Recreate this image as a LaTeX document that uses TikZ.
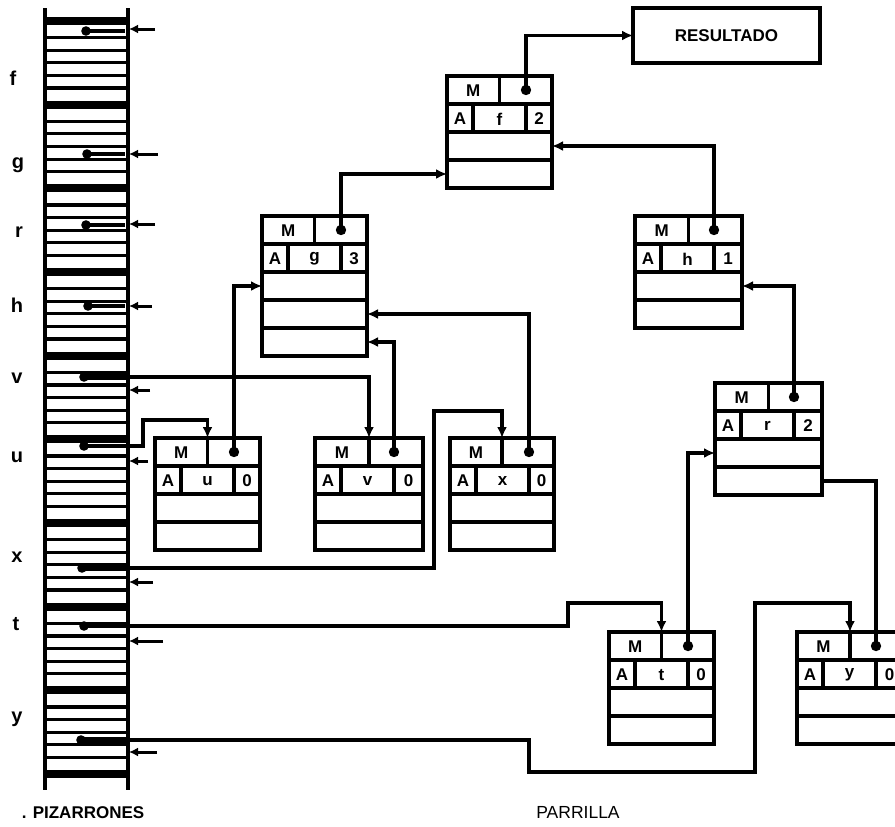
\documentclass[tikz,border=0pt]{standalone}
\usepackage{fontspec}
\setmainfont{Liberation Sans}
\usetikzlibrary{arrows.meta,calc}
\tikzset{
 recbox/.style={draw, line width=3.6pt, inner sep=0pt, outer sep=0pt, fill=white},
 cellln/.style={line width=3.2pt},
 boxtxt/.style={inner sep=0pt, font=\fontsize{17}{17}\selectfont\bfseries},
 ptr/.style={line width=3.2pt, -{Latex[length=11pt,width=10pt]}},
 ptrplain/.style={line width=3.2pt},
 inarr/.style={line width=3pt, -{Latex[length=9pt,width=9pt]}},
 varlab/.style={inner sep=0pt, anchor=base, font=\fontsize{20}{20}\selectfont\bfseries},
 restxt/.style={font=\fontsize{17}{17}\selectfont\bfseries}
}
\newcommand\recnode[7]{%
  \node[recbox, minimum width=#4pt, minimum height=#5*28pt, anchor=north west] (#1) at (#2,#3) {};
  \pgfmathtruncatemacro\nrows{#5-1}%
  \foreach \i in {1,...,\nrows}{\draw[cellln] ($(#1.north west)+(0,\i*28)$) -- ++(#4,0);}
  \draw[cellln] ($(#1.north west)+(#4/2,0)$) -- ++(0,28);
  \draw[cellln] ($(#1.north west)+(26,28)$) -- ++(0,28);
  \draw[cellln] ($(#1.north west)+(79,28)$) -- ++(0,28);
  \node[boxtxt] (#1m) at ($(#1.north west)+(#4/4,15)$) {M};
  \node[boxtxt] (#1a) at ($(#1.north west)+(13,43)$) {A};
  \node[boxtxt] (#1l) at ($(#1.north west)+(52.5,43)$) {#6};
  \node[boxtxt] (#1n) at ($(#1.north west)+({(79+#4)/2},43)$) {#7};
  \coordinate (#1-dot) at ($(#1.north west)+(79,14)$);
  \coordinate (#1-top) at ($(#1.north west)+(#4/2,0)$);
  \foreach \k in {3,4,5}{%
    \coordinate (#1-L\k) at ($(#1.north west)+(0,\k*28-14)$);
    \coordinate (#1-R\k) at ($(#1.north west)+(#4,\k*28-14)$);}
  \fill (#1-dot) circle (5.2pt);
}
\begin{document}
\begin{tikzpicture}[x=1pt,y=-1pt]
\useasboundingbox (0,0) rectangle (895,827);
\fill[white] (0,0) rectangle (895,827);
\clip (0,0) rectangle (895,827);

% ---- PIZARRONES column
\foreach \k in {0,...,9}{\pgfmathsetmacro\bt{17+\k*83.67}\fill (45,\bt) rectangle (128,\bt+8);}
\foreach \k in {0,...,8}{\foreach \j in {1,...,5}{%
  \pgfmathsetmacro\cy{25+\k*83.67+\j*75.67/6}\draw[line width=3.2pt] (45,\cy) -- (128,\cy);}}
\draw[line width=3.8pt] (45,8) -- (45,790) (128,8) -- (128,790);

% variable labels
\node[varlab] (lf) at (13,85) {f};
\node[varlab] (lg) at (18,168) {g};
\node[varlab] (lr) at (19,237) {r};
\node[varlab] (lh) at (17,312) {h};
\node[varlab] (lv) at (17,383) {v};
\node[varlab] (lu) at (17,462) {u};
\node[varlab] (lx) at (17,562) {x};
\node[varlab] (lt) at (16,630) {t};
\node[varlab] (ly) at (17,722) {y};

% ---- records
\recnode{bf}{447}{76}{105}{4}{f}{2}
\recnode{bg}{262}{216}{105}{5}{g}{3}
\recnode{bh}{635}{216}{107}{4}{h}{1}
\recnode{br}{715}{383}{107}{4}{r}{2}
\recnode{bu}{155}{438}{105}{4}{u}{0}
\recnode{bv}{315}{438}{108}{4}{v}{0}
\recnode{bx}{450}{438}{104}{4}{x}{0}
\recnode{bt}{609}{632}{105}{4}{t}{0}
\recnode{by}{797}{632}{106}{4}{y}{0}

\node[recbox, minimum width=187pt, minimum height=55pt, restxt] (res) at (726.5,35.5) {RESULTADO};

% ---- record links
\draw[ptr] (bf-dot) |- (res.west);
\draw[ptr] (bg-dot) |- (bf-L4);
\draw[ptr] (bh-dot) |- (bf-R3);
\draw[ptr] (bu-dot) |- (bg-L3);
\draw[ptr] (bv-dot) |- (bg-R5);
\draw[ptr] (bx-dot) |- (bg-R4);
\draw[ptr] (br-dot) |- (bh-R3);
\draw[ptr] (bt-dot) |- (br-L3);
\draw[ptrplain] (by-dot) |- (br-R4);

% ---- column pointers to records
\coordinate (colv) at (84,377);
\coordinate (colu) at (84,446);
\coordinate (colx) at (82,568);
\coordinate (colt) at (84,626);
\coordinate (coly) at (81,740);
\coordinate (ju) at (143,420);
\coordinate (jx) at (434,411);
\coordinate (jt) at (568,603);
\coordinate (jy1) at (529,772);
\coordinate (jy2) at (755,603);
\draw[ptr] (colv) -| (bv-top);
\draw[ptr] (colu) -| (ju) -| (bu-top);
\draw[ptr] (colx) -| (jx) -| (bx-top);
\draw[ptr] (colt) -| (jt) -| (bt-top);
\draw[ptr] (coly) -| (jy1) -| (jy2) -| (by-top);
\foreach \p in {colv,colu,colx,colt,coly} \fill (\p) circle (4.8pt);
\foreach \p/\yy in {colv/377,colx/568,coly/740}{\coordinate (\p e) at (127,\yy); \draw[line width=6.5pt] (\p) -- (\p e);}

% inner pointers of f g r h
\foreach \n/\yy/\xx in {f/31/86,g/154/87,r/225/86,h/306/88}{%
  \coordinate (col\n) at (\xx,\yy); \coordinate (edge\n) at (125,\yy);
  \draw[ptrplain] (col\n) -- (edge\n); \fill (col\n) circle (4.8pt);}

% incoming short arrows
\foreach \n/\yy/\xs in {f/29/155,g/154/158,r/224/155,h/306/152,v/390/150,u/461/148,x/582/153,t/641/163,y/752/157}{%
  \coordinate (in\n s) at (\xs,\yy); \coordinate (in\n e) at (129,\yy);
  \draw[inarr] (in\n s) -- (in\n e);}

% captions
\node[restxt, anchor=base, inner sep=0pt] (piz) at (83,818) {. PIZARRONES};
\node[font=\fontsize{17.5}{17.5}\selectfont, anchor=base, inner sep=0pt] (par) at (578,818) {PARRILLA};
\end{tikzpicture}
\end{document}
